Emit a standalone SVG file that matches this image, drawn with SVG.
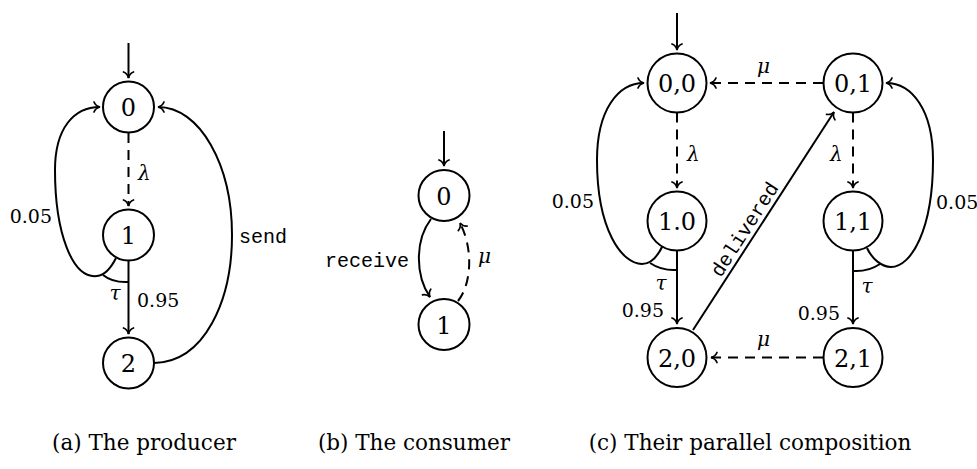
<svg xmlns="http://www.w3.org/2000/svg" width="977" height="469" viewBox="0 0 977 469">
  <defs>
    <style>
      .state circle { fill: #fff; stroke: #000; stroke-width: 2; }
      .state text { font-family: "DejaVu Serif", serif; font-size: 24px; text-anchor: middle; fill: #000; }
      .edge { fill: none; stroke: #000; stroke-width: 2; }
      .arrow { marker-end: url(#tip); }
      .dashed { stroke-dasharray: 10 7; }
      .num { font-family: "DejaVu Serif", serif; font-size: 19px; fill: #000; }
      .greek { font-family: "DejaVu Serif", serif; font-style: italic; font-size: 20px; fill: #000; }
      .act { font-family: "Liberation Mono", "DejaVu Sans Mono", monospace; font-size: 20px; fill: #000; }
      .caption { font-family: "DejaVu Serif", serif; font-size: 21.5px; text-anchor: middle; fill: #000; }
    </style>
    <!-- curved "to" style arrow tip -->
    <marker id="tip" viewBox="-8 -7 10 14" markerWidth="10" markerHeight="14" refX="0" refY="0" orient="auto" markerUnits="userSpaceOnUse" overflow="visible">
      <path d="M-6,-5 C-5,-2.5 -2.5,-0.6 0,0 C-2.5,0.6 -5,2.5 -6,5" fill="none" stroke="#000" stroke-width="1.7" stroke-linecap="round" stroke-dasharray="none"/>
    </marker>
  </defs>

  <!-- (a) producer -->
  <g id="connectors-producer">
    <path class="edge arrow" d="M128.5,43 L128.5,78"/>
    <path class="edge arrow dashed" d="M128.5,133 L128.5,206"/>
    <path class="edge arrow" d="M128.5,261 L128.5,334"/>
    <path class="edge arrow" d="M116,258 C112,266 106,275 97,276 C72,279 55,232 55,170 C55,128 74,107 100,107"/>
    <path class="edge" d="M103,275 Q113,283 128.5,282"/>
    <path class="edge arrow" d="M154,363 C205,362 232,300 232,235 C232,165 200,107 158,107"/>
    <text class="greek" x="138" y="180">λ</text>
    <text class="num" x="52" y="223" text-anchor="end">0.05</text>
    <text class="act" x="239" y="243">send</text>
    <text class="greek" x="115" y="300" text-anchor="middle">τ</text>
    <text class="num" x="137" y="307">0.95</text>
  </g>
  <g id="p0" class="state"><circle cx="128.5" cy="107" r="25.5"/><text x="128.5" y="116">0</text></g>
  <g id="p1" class="state"><circle cx="128.5" cy="235" r="25.5"/><text x="128.5" y="244">1</text></g>
  <g id="p2" class="state"><circle cx="128.5" cy="363" r="25.5"/><text x="128.5" y="372">2</text></g>

  <!-- (b) consumer -->
  <g id="connectors-consumer">
    <path class="edge arrow" d="M444,131 L444,166"/>
    <path class="edge arrow" d="M431,219 C415,240 415,275 430,297"/>
    <path class="edge arrow dashed" d="M458,301 C471,285 474,250 460,223"/>
    <text class="act" x="409" y="267" text-anchor="end">receive</text>
    <text class="greek" x="478" y="263">μ</text>
  </g>
  <g id="c0" class="state"><circle cx="444" cy="195.5" r="25.5"/><text x="444" y="204.5">0</text></g>
  <g id="c1" class="state"><circle cx="444" cy="324.5" r="25.5"/><text x="444" y="333.5">1</text></g>

  <!-- (c) parallel composition -->
  <g id="connectors-composition">
    <path class="edge arrow" d="M677,13 L677,50"/>
    <path class="edge arrow dashed" d="M823,83 L710,83"/>
    <path class="edge arrow dashed" d="M677,112.5 L677,188"/>
    <path class="edge arrow dashed" d="M853,112.5 L853,188"/>
    <path class="edge arrow" d="M677,250.5 L677,324"/>
    <path class="edge arrow" d="M853,250.5 L853,324"/>
    <path class="edge arrow dashed" d="M823,357.5 L711,357.5"/>
    <path class="edge arrow" d="M693,330 L834,112"/>
    <path class="edge arrow" d="M663,245 C658,256 651,264 642,264 C622,264 597,230 597,160 C597,110 618,83 644,83"/>
    <path class="edge" d="M650,263 Q662,271 677,270"/>
    <path class="edge arrow" d="M867,248 C872,259 882,267 891,267 C911,267 933,230 933,160 C933,110 912,83 886,83"/>
    <path class="edge" d="M853,271 Q868,272 880,264"/>
    <text class="greek" x="757" y="73">μ</text>
    <text class="greek" x="687" y="161">λ</text>
    <text class="greek" x="830" y="161">λ</text>
    <text class="num" x="594" y="208" text-anchor="end">0.05</text>
    <text class="num" x="936" y="209">0.05</text>
    <text class="greek" x="661" y="290" text-anchor="middle">τ</text>
    <text class="num" x="664" y="317" text-anchor="end">0.95</text>
    <text class="greek" x="867" y="293" text-anchor="middle">τ</text>
    <text class="num" x="840" y="320" text-anchor="end">0.95</text>
    <text class="greek" x="757" y="346">μ</text>
    <text class="act" transform="translate(750,233) rotate(-57.1)" text-anchor="middle">delivered</text>
  </g>
  <g id="s00" class="state"><circle cx="677" cy="83" r="29.5"/><text x="677" y="92">0,0</text></g>
  <g id="s01" class="state"><circle cx="853" cy="83" r="29.5"/><text x="853" y="92">0,1</text></g>
  <g id="s10" class="state"><circle cx="677" cy="221" r="29.5"/><text x="677" y="230">1.0</text></g>
  <g id="s11" class="state"><circle cx="853" cy="221" r="29.5"/><text x="853" y="230">1,1</text></g>
  <g id="s20" class="state"><circle cx="677" cy="357.5" r="29.5"/><text x="677" y="366.5">2,0</text></g>
  <g id="s21" class="state"><circle cx="853" cy="357.5" r="29.5"/><text x="853" y="366.5">2,1</text></g>

  <!-- captions -->
  <text class="caption" x="144" y="450">(a) The producer</text>
  <text class="caption" x="414" y="450">(b) The consumer</text>
  <text class="caption" x="750" y="450">(c) Their parallel composition</text>
</svg>
